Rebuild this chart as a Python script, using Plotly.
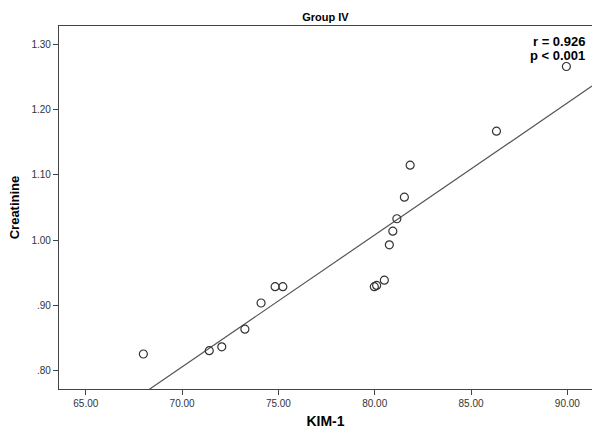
import numpy as np
import plotly.graph_objects as go

# KIM-1 vs creatinine, group IV
kim1 = [67.99, 71.41, 72.06, 73.26, 74.10, 74.83, 75.23, 79.98, 80.10, 80.50,
        80.76, 80.94, 81.15, 81.54, 81.84, 86.32, 89.95]
creatinine = [0.826, 0.831, 0.837, 0.864, 0.904, 0.929, 0.929, 0.929, 0.931, 0.939,
              0.993, 1.014, 1.033, 1.066, 1.115, 1.167, 1.266]

x_ticks = [65, 70, 75, 80, 85, 90]
x_tick_labels = ["65.00", "70.00", "75.00", "80.00", "85.00", "90.00"]
y_ticks = [0.8, 0.9, 1.0, 1.1, 1.2, 1.3]
y_tick_labels = [".80", ".90", "1.00", "1.10", "1.20", "1.30"]
stat_lines = ["r = 0.926", "p < 0.001"]

x_range = [63.61, 91.28]
y_range = [0.7724, 1.328]

# least-squares fit line across the visible x range
slope, intercept = np.polyfit(kim1, creatinine, 1)
fit_x = np.array(x_range)
fit_y = slope * fit_x + intercept

font = "Liberation Sans, Arial, sans-serif"

fig = go.Figure()
fig.add_trace(go.Scatter(
    x=fit_x, y=fit_y, mode="lines",
    line=dict(color="#555555", width=1.2),
    hoverinfo="skip", showlegend=False,
))
fig.add_trace(go.Scatter(
    x=kim1, y=creatinine, mode="markers",
    marker=dict(symbol="circle-open", size=8, color="#333333",
                line=dict(width=1.2, color="#333333")),
    showlegend=False,
))

# correlation statistics, right-aligned in the upper corner
for text, ypos in zip(stat_lines, [0.957, 0.920]):
    fig.add_annotation(
        xref="paper", yref="paper", x=0.991, y=ypos,
        xanchor="right", yanchor="middle", showarrow=False,
        text=f"<b>{text}</b>",
        font=dict(family=font, size=13, color="#000000"),
    )

fig.update_layout(
    width=592, height=434,
    margin=dict(l=59, r=0, t=26, b=45),
    paper_bgcolor="white", plot_bgcolor="white",
    title=dict(text="<b>Group IV</b>", x=0.5, xref="paper", xanchor="center",
               y=1 - 17 / 434, yanchor="middle",
               font=dict(family=font, size=11, color="#000000")),
    xaxis=dict(
        range=x_range, tickvals=x_ticks, ticktext=x_tick_labels,
        showgrid=False, zeroline=False,
        showline=True, linecolor="#444444", linewidth=1.3, mirror=True,
        ticks="outside", ticklen=5, tickcolor="#444444",
        tickfont=dict(family=font, size=10, color="#333333"),
        title=dict(text="<b>KIM-1</b>", standoff=8,
                   font=dict(family=font, size=14, color="#000000")),
    ),
    yaxis=dict(
        range=y_range, tickvals=y_ticks, ticktext=y_tick_labels,
        showgrid=False, zeroline=False,
        showline=True, linecolor="#444444", linewidth=1.3,
        ticks="outside", ticklen=5, tickcolor="#444444",
        tickfont=dict(family=font, size=10, color="#333333"),
        title=dict(text="<b>Creatinine</b>", standoff=8,
                   font=dict(family=font, size=13, color="#000000")),
    ),
)

fig.write_html("out.html")
